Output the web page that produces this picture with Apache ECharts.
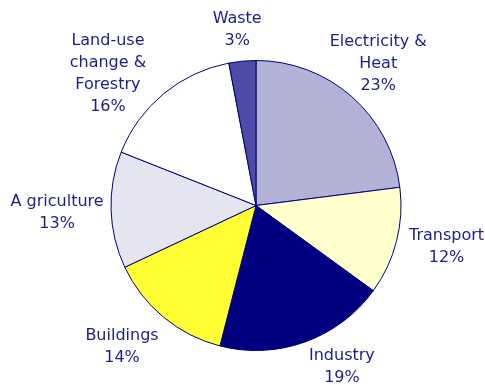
<!DOCTYPE html>
<html>
<head>
<meta charset="utf-8">
<script src="https://cdn.jsdelivr.net/npm/echarts@6/dist/echarts.min.js"></script>
<style>
  html, body { margin: 0; padding: 0; background: #ffffff; }
  #chart { width: 485px; height: 385px; }
</style>
</head>
<body>
<div id="chart"></div>
<script>
// Sector names and their shares of emissions (%)
const categories = ['Electricity &\nHeat', 'Transport', 'Industry', 'Buildings', 'A griculture', 'Land-use\nchange &\nForestry', 'Waste'];
const shares = [23, 12, 19, 14, 13, 16, 3];
const colors = ['#b2b2d6', '#ffffcc', '#000080', '#ffff33', '#e5e5f2', '#ffffff', '#4c4ca6'];

// Label placement: radial distance from the centre and a small angular nudge (degrees)
const labelDist = [187, 195, 183, 195, 199, 198, 177];
const labelNudge = [-0.6, -2.1, -8.2, 3.8, -0.2, -8.8, -0.7];

const CX = 256, CY = 205.5, R = 145;
const total = shares.reduce((a, b) => a + b, 0);

const chart = echarts.init(document.getElementById('chart'), null, { renderer: 'canvas' });

chart.setOption({
  backgroundColor: '#ffffff',
  animation: false,
  series: [{
    type: 'pie',
    center: [CX, CY],
    radius: R,
    startAngle: 90,
    clockwise: true,
    avoidLabelOverlap: false,
    data: categories.map((name, i) => ({
      name: name,
      value: shares[i],
      itemStyle: { color: colors[i] }
    })),
    itemStyle: { borderColor: '#000080', borderWidth: 1 },
    emphasis: { disabled: true },
    label: {
      show: true,
      position: 'outside',
      formatter: p => p.name + '\n' + p.value + '%',
      color: '#1c1c8a',
      fontFamily: 'DejaVu Sans',
      fontSize: 16,
      lineHeight: 22,
      align: 'center'
    },
    labelLine: { show: false },
    labelLayout: function (params) {
      const i = params.dataIndex;
      let before = 0;
      for (let k = 0; k < i; k++) before += shares[k];
      const midFrac = (before + shares[i] / 2) / total;
      const ang = (midFrac * 360 + labelNudge[i]) * Math.PI / 180;
      return {
        x: CX + labelDist[i] * Math.sin(ang),
        y: CY - labelDist[i] * Math.cos(ang),
        align: 'center',
        verticalAlign: 'middle'
      };
    }
  }]
});
</script>
</body>
</html>
